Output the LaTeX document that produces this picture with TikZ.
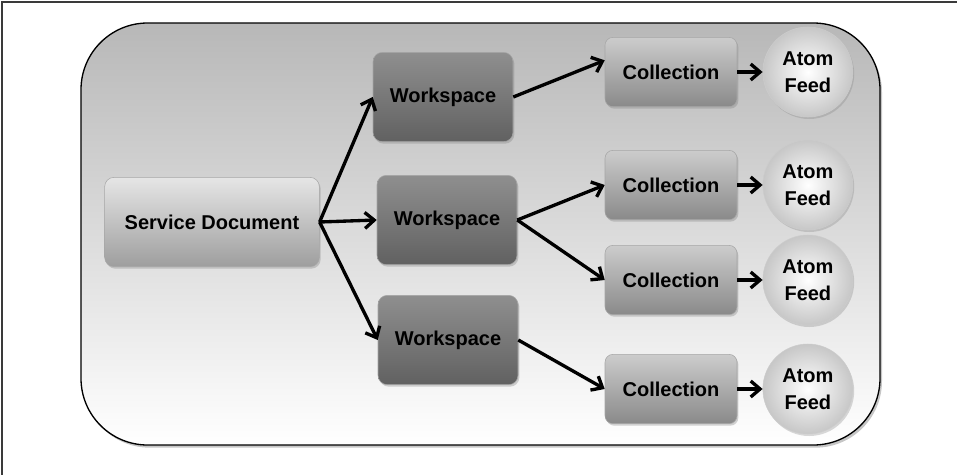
\documentclass[tikz,border=0pt]{standalone}
\usepackage{fontspec}
\setmainfont{Liberation Sans}
\usepackage{tikz}
\usetikzlibrary{arrows.meta,positioning,shadows}
\definecolor{framegray}{HTML}{3A3A3A}

\begin{document}
\begin{tikzpicture}[
x=0.75pt,y=-0.75pt,
node distance=4mm and 19pt,
box/.style={rounded corners=7pt,align=center,font=\bfseries\fontsize{15}{17}\selectfont,
draw=black!35,line width=0.4pt,drop shadow={opacity=0.35,shadow xshift=1pt,shadow yshift=-1.5pt}},
doc/.style={box,top color=black!10,bottom color=black!38,
minimum width=161pt,minimum height=67pt},
ws/.style={box,top color=black!44,bottom color=black!62,
minimum width=105pt,minimum height=67pt},
coll/.style={box,rounded corners=6pt,top color=black!20,bottom color=black!46,
minimum width=99pt,minimum height=52pt},
feed/.style={circle,align=center,font=\bfseries\fontsize{15}{20}\selectfont,
inner color=white,outer color=black!22,draw=black!20,line width=0.4pt,
minimum size=67.5pt,inner sep=0pt,
drop shadow={opacity=0.3,shadow xshift=1pt,shadow yshift=-1.5pt}},
arr/.style={-{Straight Barb[length=7pt,width=12pt]},line width=2.5pt}
]
\useasboundingbox (0,0) rectangle (957,475);
% page frame, top and left only
\draw[framegray,line width=1.2pt] (957,2) -- (2,2) -- (2,475);
% panel
\draw[line width=1pt,rounded corners=50pt,top color=black!28,bottom color=white,
drop shadow={opacity=0.45,shadow xshift=1.5pt,shadow yshift=-2pt}]
(81,23) rectangle (880,445);

\node[doc] (sd) at (212,222) {Service Document};
\node[ws] (w1) at (443,97) {Workspace};
\node[ws] (w2) at (447,220) {Workspace};
\node[ws] (w3) at (448,340) {Workspace};
\node[coll] (c1) at (671,72) {Collection};
\node[coll] (c2) at (671,185) {Collection};
\node[coll] (c3) at (671,280) {Collection};
\node[coll] (c4) at (671,389) {Collection};
\foreach \c/\f in {c1/f1,c2/f2,c3/f3,c4/f4}
\node[feed,right=of \c] (\f) {Atom\\Feed};

\foreach \a/\b in {sd/w1,sd/w2,sd/w3,w2/c2,w2/c3,w3/c4}
\draw[arr] (\a.east) -- (\b.west);
\draw[arr] (w1.east) -- (c1.170);
\foreach \a/\b in {c1/f1,c2/f2,c3/f3,c4/f4}
\draw[arr] (\a) -- (\b);
\end{tikzpicture}
\end{document}
